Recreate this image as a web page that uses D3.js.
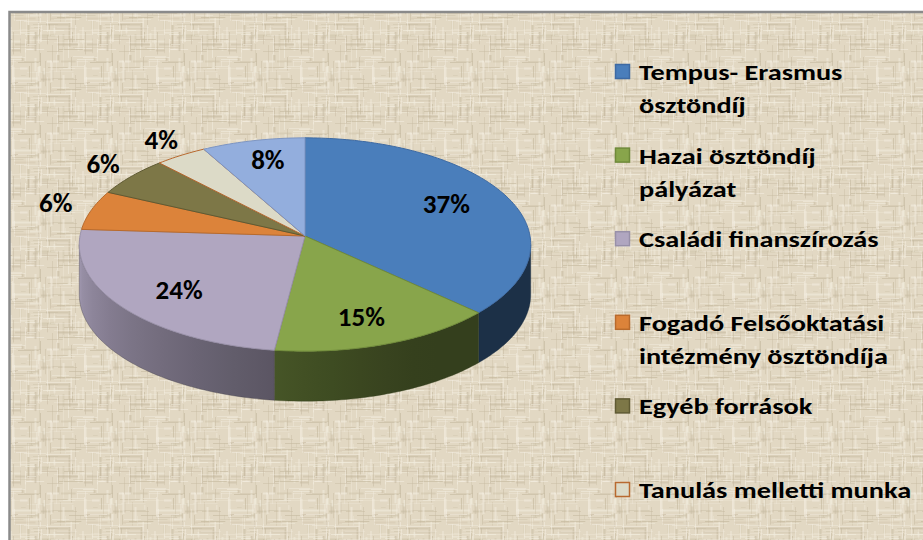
<!DOCTYPE html>
<html>
<head>
<meta charset="utf-8">
<script src="https://cdn.jsdelivr.net/npm/d3@7"></script>
<style>
  body { margin: 0; background: #fff; }
  svg { display: block; }
</style>
</head>
<body>
<svg id="svg" width="923" height="540"></svg>
<script>
// values (percent)
const categories = [
    "Tempus- Erasmus\nösztöndíj",
    "Hazai ösztöndíj\npályázat",
    "Családi finanszírozás",
    "Fogadó Felsőoktatási\nintézmény ösztöndíja",
    "Egyéb források",
    "Tanulás melletti munka",
    null // 8% slice, no legend entry in the original
];
const values = [37, 15, 24, 6, 6, 4, 8];
const colors = ["#4a7ebb", "#88a54b", "#b0a6c0", "#dc833a", "#7d7747", "#dcdac7", "#93aedd"];
const edgeColors = ["#3e6aa3", "#6f8a3a", "#9890a8", "#b86a2c", "#5f5a33", "#b8692f", "#7d95c2"];

const svg = d3.select("#svg");
const W = 923, H = 540;
const FONT = "Carlito, Lato, 'Noto Sans', sans-serif";
const LEGEND_STRETCH = 1.23; // the original legend text is drawn wide
const LABEL_STRETCH = 1.04;

// ---------- background (burlap texture) ----------
const defs = svg.append("defs");
const pat = defs.append("pattern")
    .attr("id", "burlap")
    .attr("patternUnits", "userSpaceOnUse")
    .attr("width", 72).attr("height", 72);
pat.append("rect").attr("width", 72).attr("height", 72).attr("fill", "#e2d8c3");

let seed = 11;
function rnd() { seed = (seed * 16807) % 2147483647; return (seed - 1) / 2147483646; }
for (let i = 0; i < 140; i++) {
    const vertical = i % 2 === 0;
    const pos = Math.floor(rnd() * 72) + 0.5;
    const start = Math.floor(rnd() * 72);
    const len = 4 + rnd() * 22;
    const light = rnd() > 0.45;
    const stroke = light ? "#f2ecde" : "#c4b89e";
    const op = 0.25 + rnd() * 0.4;
    const w = rnd() > 0.7 ? 2 : 1;
    [0, -72].forEach(off => {
        const a = start + off, b = a + len;
        pat.append("line")
            .attr("x1", vertical ? pos : a).attr("x2", vertical ? pos : b)
            .attr("y1", vertical ? a : pos).attr("y2", vertical ? b : pos)
            .attr("stroke", stroke).attr("stroke-width", w).attr("opacity", op);
    });
}

svg.append("rect")
    .attr("x", 9.5).attr("y", 12)
    .attr("width", W + 30).attr("height", H + 30)
    .attr("fill", "url(#burlap)")
    .attr("stroke", "#8a8a8a")
    .attr("stroke-width", 2.5);

// ---------- 3D pie ----------
const cx = 305, cy = 236, rx = 225, ry = 106, depth = 50, persp = 0.08;

function proj(a, r, z) {
    const u = Math.sin(a) * r, v = Math.cos(a) * r;
    const p = 1 / (1 + persp * v);
    return [cx + rx * u * p, cy - ry * v * p + (z || 0)];
}

function arcPts(a0, a1, r, z) {
    const n = Math.max(2, Math.ceil(Math.abs(a1 - a0) / 0.02));
    return d3.range(n + 1).map(i => proj(a0 + (a1 - a0) * i / n, r, z));
}

const pie = d3.pie().sort(null).value(d => d)
    .startAngle(0).endAngle(2 * Math.PI);
const arcs = pie(values);

const line = d3.line();
const frontA0 = Math.acos(-persp);
const frontA1 = 2 * Math.PI - frontA0;

// side lighting: brighter toward the left
function shade(a) {
    const t = Math.max(0, Math.min(1, (a - 2.62) / 2.09));
    return 0.38 + 0.55 * Math.pow(t, 1.2);
}

const sideG = svg.append("g");
arcs.forEach((d, i) => {
    const a0 = Math.max(d.startAngle, frontA0);
    const a1 = Math.min(d.endAngle, frontA1);
    if (a1 <= a0) return;
    const top = arcPts(a0, a1, 1, 0);
    const bot = arcPts(a1, a0, 1, depth);
    const xs = top.map(p => p[0]);
    const xMin = d3.min(xs), xMax = d3.max(xs);
    const gid = "side" + i;
    const grad = defs.append("linearGradient")
        .attr("id", gid)
        .attr("gradientUnits", "userSpaceOnUse")
        .attr("x1", xMin).attr("x2", xMax).attr("y1", 0).attr("y2", 0);
    const base = d3.rgb(colors[i]);
    d3.range(9).map(k => a0 + (a1 - a0) * k / 8)
        .map(a => ({ x: proj(a, 1)[0], s: shade(a) }))
        .sort((p, q) => p.x - q.x)
        .forEach(st => {
            grad.append("stop")
                .attr("offset", xMax > xMin ? (st.x - xMin) / (xMax - xMin) : 0)
                .attr("stop-color", d3.rgb(base.r * st.s, base.g * st.s, base.b * st.s));
        });
    sideG.append("path")
        .attr("d", line(top.concat(bot)) + "Z")
        .attr("fill", `url(#${gid})`)
        .attr("stroke", d3.rgb(base.r * 0.35, base.g * 0.35, base.b * 0.35))
        .attr("stroke-width", 0.6)
        .attr("stroke-opacity", 0.6);
});

const topG = svg.append("g");
arcs.forEach((d, i) => {
    const pts = [proj(0, 0)].concat(arcPts(d.startAngle, d.endAngle, 1, 0));
    topG.append("path")
        .attr("d", line(pts) + "Z")
        .attr("fill", colors[i])
        .attr("stroke", edgeColors[i])
        .attr("stroke-width", 1)
        .attr("stroke-linejoin", "round");
});

// ---------- data labels ----------
const labelG = svg.append("g")
    .attr("font-family", FONT)
    .attr("font-weight", "bold")
    .attr("font-size", 26)
    .attr("fill", "#000")
    .attr("text-anchor", "middle");
arcs.forEach((d, i) => {
    const mid = (d.startAngle + d.endAngle) / 2;
    const inside = values[i] >= 8;
    const r = inside ? 0.7 : 1.17;
    // front labels sit a little lower, as in the original
    const z = inside ? -8 * Math.cos(mid) : -3;
    const [x, y] = proj(mid, r, z);
    labelG.append("text")
        .attr("transform", `translate(${x},${y}) scale(${LABEL_STRETCH},1)`)
        .attr("dy", "0.35em")
        .text(values[i] + "%");
});

// ---------- legend ----------
const legendItems = categories
    .map((name, i) => ({ name, i }))
    .filter(d => d.name);
const legendY = d3.scalePoint()
    .domain(legendItems.map(d => d.i))
    .range([72, 490]);

const legend = svg.append("g")
    .attr("font-family", FONT)
    .attr("font-weight", "bold")
    .attr("font-size", 23)
    .attr("fill", "#000");

legendItems.forEach(d => {
    const y = legendY(d.i);
    legend.append("rect")
        .attr("x", 615.5).attr("y", y - 7.5)
        .attr("width", 14).attr("height", 14)
        .attr("fill", colors[d.i])
        .attr("stroke", edgeColors[d.i])
        .attr("stroke-width", 1.5);
    d.name.split("\n").forEach((txt, k) => {
        legend.append("text")
            .attr("transform", `translate(639,${y + k * 33}) scale(${LEGEND_STRETCH},1)`)
            .attr("dy", "0.35em")
            .text(txt);
    });
});
</script>
</body>
</html>
